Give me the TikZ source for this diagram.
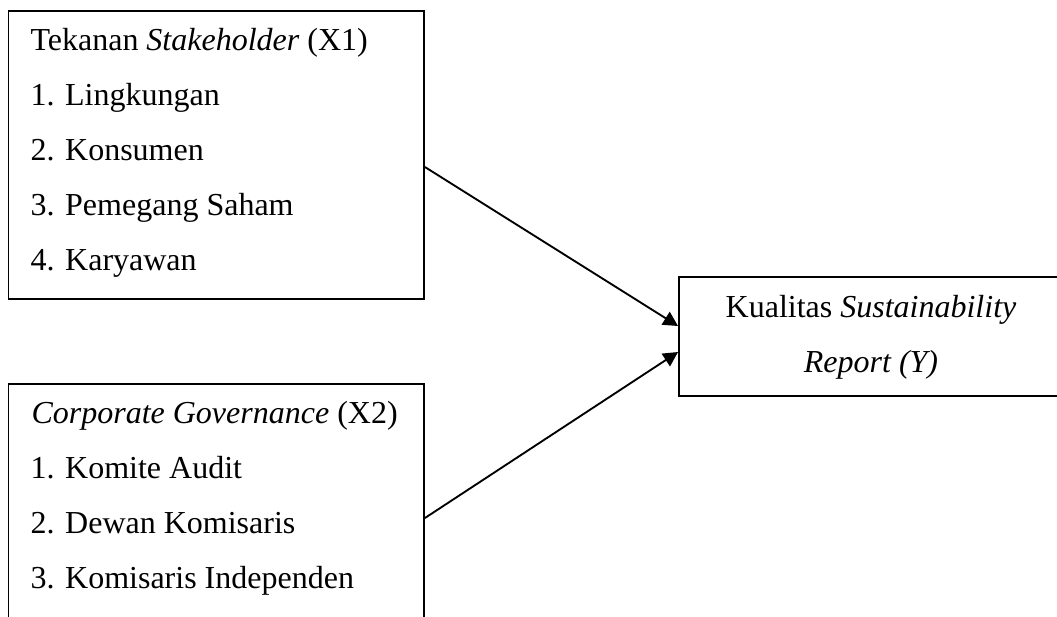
\documentclass[tikz,border=0pt]{standalone}
\usepackage{fontspec}
\setmainfont{Liberation Serif}
\usetikzlibrary{arrows.meta}
\begin{document}
\begin{tikzpicture}[x=0.375pt,y=-0.375pt,
  box/.style={draw, line width=0.7pt, inner sep=0pt, rectangle},
  txt/.style={anchor=base west, inner sep=0pt, font=\fontsize{12}{14}\selectfont},
  ctxt/.style={anchor=base, inner sep=0pt, font=\fontsize{12}{14}\selectfont},
  arr/.style={-{Triangle[length=5.5pt,width=5.6pt]}, line width=0.7pt}]
\useasboundingbox (0,0) rectangle (1057,616);
\clip (0,0) rectangle (1057,616);
% boxes
\node[box, minimum width=155.81pt, minimum height=108pt] (b1) at (216.25,155) {};
\node[box, minimum width=155.81pt, minimum height=99.75pt] (b2) at (216.25,517) {};
\node[box, minimum width=150.4pt, minimum height=44.6pt] (b3) at (879.5,336.5) {};
% box 1 text
\node[txt] (t10) at (30,50) {Tekanan \textit{Stakeholder} (X1)};
\node[txt] (t11) at (30,105) {1. Lingkungan};
\node[txt] (t12) at (30,160) {2. Konsumen};
\node[txt] (t13) at (30,215) {3. Pemegang Saham};
\node[txt] (t14) at (30,270) {4. Karyawan};
% box 2 text
\node[txt] (t20) at (31,423) {\textit{Corporate Governance} (X2)};
\node[txt] (t21) at (30,478) {1. Komite Audit};
\node[txt] (t22) at (30,533) {2. Dewan Komisaris};
\node[txt] (t23) at (30,588) {3. Komisaris Independen};
% box 3 text
\node[ctxt] (t30) at (871,317) {Kualitas \textit{Sustainability}};
\node[ctxt] (t31) at (871,372) {\textit{Report (Y)}};
% arrows
\draw[arr] (b1.east |- 0,167) -- (b3.west |- 0,326);
\draw[arr] (b2.east |- 0,518) -- (b3.west |- 0,352);
\end{tikzpicture}
\end{document}
